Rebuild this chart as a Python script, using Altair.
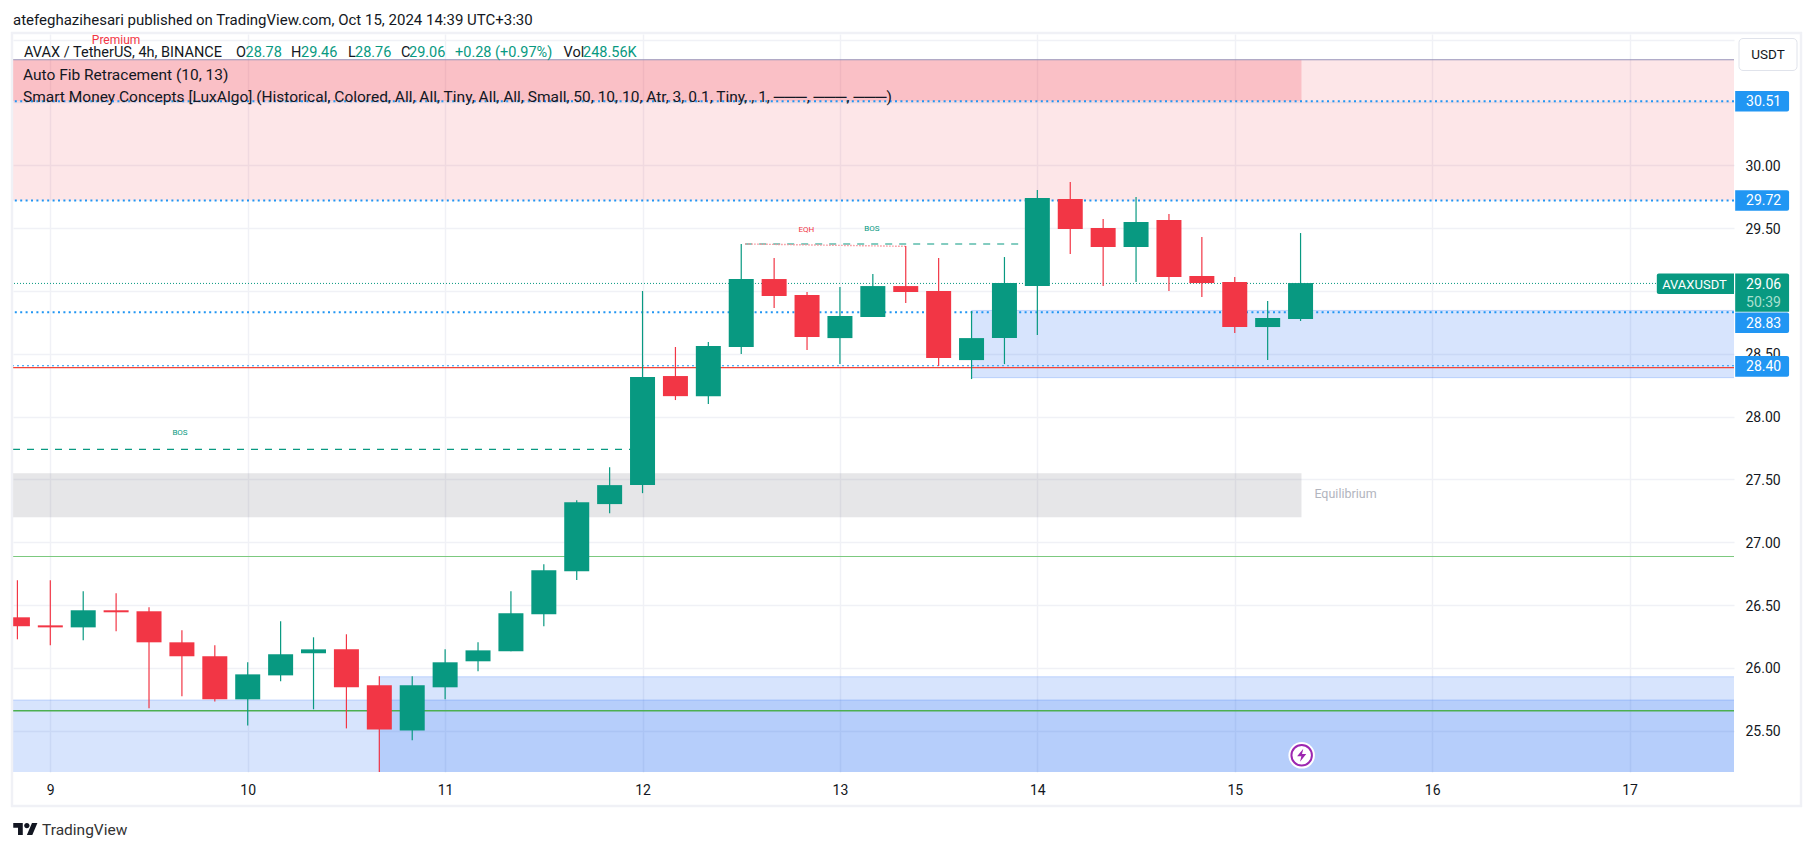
import altair as alt
import pandas as pd

# ---- candle data (4h bars; day number = 9 + index / 6) ----
bar_index = list(range(-1, 39))
opens = [26.403, 26.339, 26.323, 26.459, 26.451, 26.204, 26.093, 25.750, 25.941, 26.117,
         26.148, 25.862, 25.503, 25.846, 26.053, 26.132, 26.427, 26.770, 27.304, 27.455,
         28.323, 28.163, 28.554, 29.095, 28.968, 28.625, 28.793, 29.039, 29.000, 28.450,
         28.625, 29.039, 29.732, 29.501, 29.350, 29.565, 29.119, 29.071, 28.713, 28.777]
closes = [26.332, 26.323, 26.459, 26.443, 26.204, 26.093, 25.750, 25.949, 26.109, 26.148,
          25.846, 25.511, 25.862, 26.045, 26.140, 26.435, 26.777, 27.319, 27.455, 28.315,
          28.163, 28.562, 29.095, 28.960, 28.633, 28.801, 29.039, 28.992, 28.466, 28.625,
          29.063, 29.740, 29.493, 29.350, 29.549, 29.111, 29.063, 28.713, 28.785, 29.063]
highs = [26.698, 26.698, 26.610, 26.594, 26.483, 26.300, 26.180, 26.045, 26.371, 26.244,
         26.268, 25.933, 25.933, 26.148, 26.204, 26.610, 26.826, 27.335, 27.598, 29.000,
         28.554, 28.593, 29.374, 29.262, 28.992, 29.031, 29.135, 29.358, 29.262, 28.840,
         29.270, 29.804, 29.867, 29.573, 29.748, 29.613, 29.430, 29.111, 28.920, 29.461]
lows = [26.228, 26.180, 26.220, 26.292, 25.679, 25.774, 25.734, 25.543, 25.894, 25.671,
        25.519, 25.100, 25.424, 25.750, 25.973, 26.132, 26.332, 26.700, 27.232, 27.391,
        28.132, 28.100, 28.498, 28.864, 28.530, 28.418, 28.793, 28.904, 28.403, 28.299,
        28.418, 28.650, 29.294, 29.040, 29.071, 29.000, 28.952, 28.665, 28.450, 28.761]

# ---- axes ----
x_domain = [8.811, 17.529]
y_domain = [25.172, 31.045]
day_ticks = [9, 10, 11, 12, 13, 14, 15, 16, 17]
price_ticks = [25.5, 26, 26.5, 27, 27.5, 28, 28.5, 29, 29.5, 30, 30.5, 31]

GREEN = "#089981"
RED = "#F23645"
BLUE = "#1f6bf5"
TAG = "#2196F3"
FONT = "Roboto"

W, H = 1721, 738
OX, OY = 13, 34  # plot origin on the page


def px(v):
    return alt.value(v - OX)


def py(v):
    return alt.value(v - OY)


xs = alt.Scale(domain=x_domain, nice=False, zero=False, padding=0)
ys = alt.Scale(domain=y_domain, nice=False, zero=False, padding=0)


def X(field="x"):
    return alt.X(f"{field}:Q", scale=xs, title=None)


def Y(field="y"):
    return alt.Y(f"{field}:Q", scale=ys, title=None)


candles = pd.DataFrame({
    "x": [9 + i / 6 for i in bar_index],
    "o": opens, "c": closes, "h": highs, "l": lows,
    "dir": ["up" if c >= o else "down" for o, c in zip(opens, closes)],
})
dir_color = alt.Color("dir:N", scale=alt.Scale(domain=["up", "down"], range=[GREEN, RED]), legend=None)

# base layer with axes and grid
base = alt.Chart(pd.DataFrame({"x": [9.0], "y": [30.0]})).mark_point(opacity=0).encode(
    x=alt.X("x:Q", scale=xs, title=None, axis=alt.Axis(
        values=day_ticks, format="d", domain=False, ticks=False, labelFont=FONT, labelFontSize=14,
        labelColor="#131722", labelPadding=11, grid=True, gridColor="#f0f1f6", gridWidth=1.4,
        labelFlush=False)),
    y=alt.Y("y:Q", scale=ys, title=None, axis=alt.Axis(
        orient="right", values=price_ticks, format=".2f", domain=False, ticks=False, labelFont=FONT,
        labelFontSize=14, labelColor="#131722", labelPadding=11, labelOffset=1, grid=True,
        gridColor="#f0f1f6", gridWidth=1.4, labelFlush=False,
        labelExpr="(datum.value == 31 || datum.value == 30.5 || datum.value == 29) ? '' : datum.label")),
)

x_lo, x_hi = x_domain[0] - 0.05, x_domain[1] + 0.05


def zone(x0, x1, y0, y1, color, alpha, line=False):
    d = pd.DataFrame({"x": [x0], "x2": [x1], "y": [y0], "y2": [y1]})
    kw = dict(color=color, fillOpacity=alpha, clip=True)
    if line:
        kw.update(stroke=color, strokeOpacity=0.22, strokeWidth=1)
    return alt.Chart(d).mark_rect(**kw).encode(x=X(), x2="x2:Q", y=Y(), y2="y2:Q")


zones = [
    zone(x_lo, x_hi, 29.72, 30.84, RED, 0.125),
    zone(x_lo, 15.338, 30.51, 30.84, RED, 0.21),
    zone(x_lo, 15.338, 27.20, 27.55, "#787b86", 0.19),
    zone(x_lo, x_hi, y_domain[0] - 0.1, 25.745, BLUE, 0.18, True),
    zone(10.667, x_hi, y_domain[0] - 0.1, 25.93, BLUE, 0.18, True),
    zone(13.667, x_hi, 28.31, 28.845, BLUE, 0.18, True),
]


def hline(price, color, width=1.0, dash=None):
    kw = dict(color=color, strokeWidth=width)
    if dash:
        kw["strokeDash"] = dash
    return alt.Chart(pd.DataFrame({"y": [price]})).mark_rule(**kw).encode(y=Y())


def segment(x0, x1, y0, y1, color, width=1.0, dash=None):
    kw = dict(color=color, strokeWidth=width, clip=True)
    if dash:
        kw["strokeDash"] = dash
    d = pd.DataFrame({"x": [x0], "x2": [x1], "y": [y0], "y2": [y1]})
    return alt.Chart(d).mark_rule(**kw).encode(x=X(), x2="x2:Q", y=Y(), y2="y2:Q")


lines = [
    hline(30.84, "#9793b8", 1),
    hline(26.887, "#7cc97f", 1.2),
    hline(25.66, "#4CAF50", 1.4),
    hline(28.39, "#F44336", 1.3),
    hline(28.405, TAG, 1.2, [2, 3]),
    hline(30.51, TAG, 2, [2, 3.4]),
    hline(29.72, TAG, 2, [2, 3.4]),
    hline(28.83, TAG, 2, [2, 3.4]),
    hline(29.06, GREEN, 1, [1, 2]),
    segment(x_domain[0], 11.97, 27.74, 27.74, GREEN, 1.2, [7, 7]),
    segment(12.52, 14.0, 29.374, 29.374, GREEN, 1.2, [7, 7]),
    segment(12.52, 13.34, 29.374, 29.355, "#f7929a", 1.4, [1.5, 1.5]),
]

wicks = alt.Chart(candles).mark_rule(strokeWidth=1.2, clip=True).encode(
    x=X(), y=alt.Y("h:Q", scale=ys, title=None), y2="l:Q", color=dir_color)
bodies = alt.Chart(candles).mark_bar(size=25, clip=True).encode(
    x=X(), y=alt.Y("o:Q", scale=ys, title=None), y2="c:Q", color=dir_color)

# annotations in chart coordinates
notes_text = ["Premium", "BOS", "EQH", "BOS", "Equilibrium"]
notes_x = [9.333, 9.657, 12.83, 13.162, 15.561]
notes_y = [30.998, 27.869, 29.485, 29.49, 27.383]
notes_color = [RED, GREEN, RED, GREEN, "#b2b5be"]
notes_size = [12, 8, 8, 8, 12.5]
notes = pd.DataFrame({"t": notes_text, "x": notes_x, "y": notes_y, "c": notes_color, "s": notes_size})
note_layer = alt.Chart(notes).mark_text(font=FONT, baseline="middle", align="center").encode(
    x=X(), y=Y(), text="t:N", color=alt.Color("c:N", scale=None),
    size=alt.Size("s:Q", scale=None))

# price tags right of the pane
tag_text = ["30.51", "29.72", "28.83", "28.40"]
tag_center = [30.51, 29.72, 28.747, 28.40]
tag_half = 0.082
tag_x0, tag_x1, tag_tx = 17.535, 17.808, 17.59
tags = pd.DataFrame({"t": tag_text, "y": [c + tag_half for c in tag_center],
                     "y2": [c - tag_half for c in tag_center], "ty": tag_center,
                     "x": [tag_x0] * 4, "x2": [tag_x1] * 4, "tx": [tag_tx] * 4})
tag_rects = alt.Chart(tags).mark_rect(color=TAG, cornerRadiusTopRight=2, cornerRadiusBottomRight=2).encode(
    x=X(), x2="x2:Q", y=Y(), y2="y2:Q")
tag_labels = alt.Chart(tags).mark_text(font=FONT, fontSize=14, color="white", align="left", baseline="middle", dy=1).encode(
    x=X("tx"), y=Y("ty"), text="t:N")

last_rect = alt.Chart(pd.DataFrame({"x": [tag_x0], "x2": [tag_x1], "y": [29.14], "y2": [28.834]})).mark_rect(
    color=GREEN, cornerRadiusTopRight=2).encode(x=X(), x2="x2:Q", y=Y(), y2="y2:Q")
sym_rect = alt.Chart(pd.DataFrame({"x": [17.138], "x2": [17.529], "y": [29.14], "y2": [28.976]})).mark_rect(
    color=GREEN, cornerRadiusTopLeft=2, cornerRadiusBottomLeft=2).encode(x=X(), x2="x2:Q", y=Y(), y2="y2:Q")
last_labels = alt.Chart(pd.DataFrame({
    "t": ["29.06", "50:39", "AVAXUSDT"], "x": [tag_tx, tag_tx, 17.165], "y": [29.055, 28.914, 29.058],
    "c": ["white", "#a8e0d0", "white"], "s": [14, 14, 13]})).mark_text(font=FONT, align="left", baseline="middle", dy=1).encode(
    x=X(), y=Y(), text="t:N", color=alt.Color("c:N", scale=None), size=alt.Size("s:Q", scale=None))

# lightning icon
icon = pd.DataFrame({"x": [15.339], "y": [25.305]})
icon_halo = alt.Chart(icon).mark_point(shape="circle", filled=True, color="white", opacity=1, size=700).encode(x=X(), y=Y())
icon_ring = alt.Chart(icon).mark_point(shape="circle", filled=False, color="#9C27B0", opacity=1, size=420, strokeWidth=2).encode(x=X(), y=Y())
icon_bolt = alt.Chart(icon).mark_point(
    shape="M 0.25 -1 L -0.7 0.15 L -0.05 0.15 L -0.25 1 L 0.7 -0.2 L 0.05 -0.2 Z",
    filled=True, color="#9C27B0", opacity=1, size=170).encode(x=X(), y=Y())


def label(text, x, y, color="#131722", size=14.5, align="left", font=FONT):
    return alt.Chart(pd.DataFrame({"t": [text]})).mark_text(
        font=font, fontSize=size, color=color, align=align, baseline="middle").encode(
        x=px(x), y=py(y), text="t:N")


frame = alt.Chart(pd.DataFrame({"k": [0]})).mark_rect(
    fillOpacity=0, stroke="#f0f1f6", strokeWidth=2.4).encode(
    x=px(12), x2=px(1801), y=py(33), y2=py(806))
usdt_box = alt.Chart(pd.DataFrame({"k": [0]})).mark_rect(
    color="white", stroke="#e0e3eb", strokeWidth=1, cornerRadius=4).encode(
    x=px(1739), x2=px(1797), y=py(38.5), y2=py(70.5))

logo = alt.Chart(pd.DataFrame({"k": [0]})).mark_point(
    shape=("M -1 -0.5 L -0.222 -0.5 L -0.222 0.5 L -0.611 0.5 L -0.611 -0.111 L -1 -0.111 Z "
           "M 0.528 -0.5 L 0.972 -0.5 L 0.556 0.5 L 0.111 0.5 Z "
           "M -0.111 -0.278 A 0.222 0.222 0 1 0 0.333 -0.278 A 0.222 0.222 0 1 0 -0.111 -0.278 Z"),
    filled=True, color="#131722", opacity=1, size=600).encode(x=px(25.5), y=py(829))

texts = [
    label("atefeghazihesari published on TradingView.com, Oct 15, 2024 14:39 UTC+3:30", 13, 20, size=15),
    label("AVAX / TetherUS, 4h, BINANCE", 24, 53),
    label("O", 236, 53),
    label("28.78", 245.5, 53, GREEN),
    label("H", 291, 53),
    label("29.46", 301, 53, GREEN),
    label("L", 348, 53),
    label("28.76", 355, 53, GREEN),
    label("C", 401, 53),
    label("29.06", 409, 53, GREEN),
    label("+0.28 (+0.97%)", 455, 53, GREEN),
    label("Vol", 563.5, 53),
    label("248.56K", 583, 53, GREEN),
    label("Auto Fib Retracement (10, 13)", 23, 75, size=15.5),
    label("Smart Money Concepts [LuxAlgo] (Historical, Colored, All, All, Tiny, All, All, Small, "
          "50, 10, 10, Atr, 3, 0.1, Tiny, , 1, ───, ───, ───)", 23, 97, size=15.5),
    label("USDT", 1768, 55, size=13.5, align="center"),
    label("TradingView", 42, 829.5, "#333333", 15.5),
]

chart = alt.layer(
    base, *zones, *lines, wicks, bodies, note_layer,
    tag_rects, tag_labels, last_rect, sym_rect, last_labels,
    icon_halo, icon_ring, icon_bolt,
    frame, usdt_box, logo, *texts,
).properties(
    width=W, height=H,
    padding={"left": 5, "top": 26, "right": 70, "bottom": 66},
    autosize=alt.AutoSizeParams(type="none"),
    background="white",
).configure_view(stroke=None)

chart.save("out.html", embed_options={"renderer": "svg", "actions": False})
